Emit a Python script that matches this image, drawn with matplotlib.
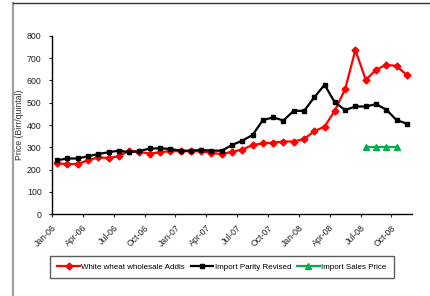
import matplotlib
matplotlib.use('Agg')
import matplotlib.pyplot as plt
from matplotlib.lines import Line2D
import numpy as np

plt.rcParams['font.family'] = ['Liberation Sans', 'DejaVu Sans']

# monthly, Jan-06 .. Nov-08
months = ['Jan-06', 'Feb-06', 'Mar-06', 'Apr-06', 'May-06', 'Jun-06', 'Jul-06', 'Aug-06', 'Sep-06',
          'Oct-06', 'Nov-06', 'Dec-06', 'Jan-07', 'Feb-07', 'Mar-07', 'Apr-07', 'May-07', 'Jun-07',
          'Jul-07', 'Aug-07', 'Sep-07', 'Oct-07', 'Nov-07', 'Dec-07', 'Jan-08', 'Feb-08', 'Mar-08',
          'Apr-08', 'May-08', 'Jun-08', 'Jul-08', 'Aug-08', 'Sep-08', 'Oct-08', 'Nov-08']
white_wheat = [228, 225, 225, 242, 255, 252, 260, 285, 280, 272, 278, 283, 283, 283, 282, 275, 270, 280,
               290, 310, 318, 321, 326, 326, 337, 372, 393, 464, 561, 736, 602, 647, 670, 664, 624]
import_parity = [242, 250, 250, 260, 270, 278, 285, 278, 283, 295, 295, 293, 285, 285, 288, 285, 285, 310,
                 330, 355, 422, 434, 420, 464, 463, 524, 580, 501, 467, 483, 483, 493, 469, 422, 406]
import_sales = [None] * 30 + [300, 300, 300, 300, None]

tick_labels = ['Jan-06', 'Apr-06', 'Jul-06', 'Oct-06', 'Jan-07', 'Apr-07', 'Jul-07', 'Oct-07',
               'Jan-08', 'Apr-08', 'Jul-08', 'Oct-08']

x = np.arange(len(months))
sales = np.array([np.nan if v is None else v for v in import_sales], dtype=float)

fig = plt.figure(figsize=(4.30, 2.96), dpi=100)
ax = fig.add_axes([52/430, 1-214.3/296, 360/430, 178.6/296])

ax.plot(x, white_wheat, color='#ff0000', lw=1.6, marker='D', ms=3.5, label='White wheat wholesale Addis')
ax.plot(x, import_parity, color='#000000', lw=1.6, marker='s', ms=3.5, label='Import Parity Revised')
ax.plot(x, sales, color='#00b050', lw=1.6, marker='^', ms=4, label='Import Sales Price')

ax.set_xlim(-0.5, len(months) - 0.5)
ax.set_ylim(0, 800)
ax.set_yticks(np.arange(0, 801, 100))
ax.set_xticks(np.arange(len(tick_labels)) * 3 - 0.5)
ax.set_xticklabels(tick_labels, rotation=45, ha='right', va='top', rotation_mode='anchor')
ax.tick_params(axis='both', labelsize=6.3, colors='#222222', length=2.5, width=0.8)
ax.tick_params(axis='x', pad=4)
ax.tick_params(axis='y', pad=5)
for s in ['top', 'right']:
    ax.spines[s].set_visible(False)
for s in ['left', 'bottom']:
    ax.spines[s].set_linewidth(1.0)
ax.set_ylabel('Price (Birr/quintal)', fontsize=6.3, color='#333333')
ax.yaxis.set_label_coords(-0.078, 0.5)

leg = fig.legend(loc='center', bbox_to_anchor=(222/430, 1-267/296), ncol=3, fontsize=5.8,
                 frameon=True, fancybox=False, handlelength=2.8, columnspacing=0.7,
                 handletextpad=0.2, borderpad=0.9)
leg.get_frame().set_edgecolor('#333333')
leg.get_frame().set_linewidth(1.0)

# outer chart frame (partially visible)
fig.add_artist(Line2D([13/430, 13/430], [0, 1-3/296], color='#a0a0a0', lw=1.6))
fig.add_artist(Line2D([13/430, 1], [1-3.3/296, 1-3.3/296], color='#333333', lw=1.0))

fig.savefig('out.png', dpi=100)
